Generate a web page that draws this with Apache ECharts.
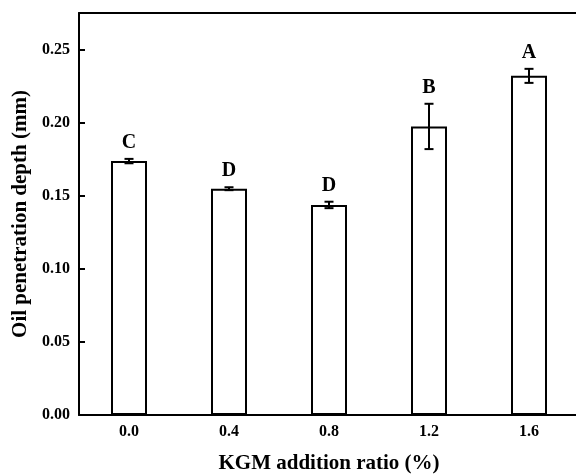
<!DOCTYPE html>
<html>
<head>
<meta charset="utf-8">
<script src="https://cdn.jsdelivr.net/npm/echarts@6/dist/echarts.min.js"></script>
<style>html,body{margin:0;padding:0;background:#fff;overflow:hidden}#c{width:576px;height:474px}</style>
</head>
<body>
<div id="c"></div>
<script>
const categories = ['0.0', '0.4', '0.8', '1.2', '1.6'];
const means = [0.1737, 0.1548, 0.1437, 0.1974, 0.2320];
const errors = [0.0015, 0.0010, 0.0022, 0.0155, 0.0048];
const letters = ['C', 'D', 'D', 'B', 'A'];
const yTicks = [0, 0.05, 0.10, 0.15, 0.20, 0.25];

const FONT = '"Liberation Serif", "Times New Roman", serif';
const chart = echarts.init(document.getElementById('c'), null, {renderer: 'canvas'});
chart.setOption({
  animation: false,
  backgroundColor: '#fff',
  grid: {left: 79, top: 13, width: 500, height: 402, containLabel: false,
         outerBoundsMode: 'none', show: false},
  xAxis: [{
    type: 'category', data: categories,
    axisLine: {lineStyle: {color: '#000', width: 2}},
    axisTick: {show: false},
    axisLabel: {color: '#000', fontFamily: FONT, fontWeight: 'bold', fontSize: 16, margin: 9},
    name: 'KGM addition ratio (%)', nameLocation: 'middle', nameGap: 38,
    nameTextStyle: {color: '#000', fontFamily: FONT, fontWeight: 'bold', fontSize: 21}
  }, {
    type: 'category', data: categories, position: 'top',
    axisLine: {show: true, lineStyle: {color: '#000', width: 2}},
    axisTick: {show: false}, axisLabel: {show: false}
  }],
  yAxis: {
    type: 'value', min: 0, max: 0.275, interval: 0.05,
    axisLine: {show: true, lineStyle: {color: '#000', width: 2}},
    axisTick: {show: true, inside: true, length: 6, lineStyle: {color: '#000', width: 2}},
    splitLine: {show: false},
    axisLabel: {color: '#000', fontFamily: FONT, fontWeight: 'bold', fontSize: 16, margin: 9,
      showMaxLabel: false,
      formatter: v => (yTicks.some(t => Math.abs(t - v) < 1e-9) ? v.toFixed(2) : '')},
    name: 'Oil penetration depth (mm)', nameLocation: 'middle', nameGap: 43,
    nameTextStyle: {color: '#000', fontFamily: FONT, fontWeight: 'bold', fontSize: 21}
  },
  series: [
    {
      type: 'bar', data: means, barWidth: 36, xAxisIndex: 0,
      itemStyle: {color: '#fff', borderColor: '#000', borderWidth: 2}
    },
    {
      type: 'custom', xAxisIndex: 0,
      data: means.map((m, i) => [i, m, errors[i]]),
      renderItem: function (params, api) {
        const i = api.value(0), m = api.value(1), e = api.value(2);
        const top = api.coord([i, m + e]);
        const bot = api.coord([i, m - e]);
        const cw = 4.5;
        const st = {stroke: '#000', lineWidth: 2};
        return {
          type: 'group',
          children: [
            {type: 'line', shape: {x1: top[0], y1: top[1], x2: bot[0], y2: bot[1]}, style: st},
            {type: 'line', shape: {x1: top[0] - cw, y1: top[1], x2: top[0] + cw, y2: top[1]}, style: st},
            {type: 'line', shape: {x1: bot[0] - cw, y1: bot[1], x2: bot[0] + cw, y2: bot[1]}, style: st},
            {type: 'text', x: top[0], y: top[1] - 6,
             style: {text: letters[params.dataIndex], fill: '#000', font: 'bold 20px ' + FONT,
                     align: 'center', verticalAlign: 'bottom'}}
          ]
        };
      },
      z: 5
    }
  ]
});
</script>
</body>
</html>
